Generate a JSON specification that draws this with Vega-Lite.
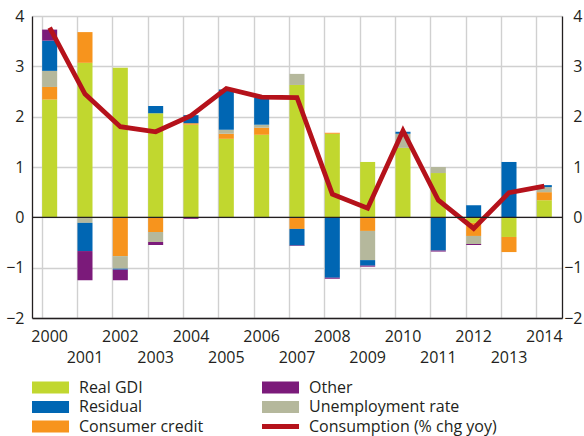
{
  "$schema": "https://vega.github.io/schema/vega-lite/v6.json",
  "width": 530,
  "height": 302,
  "autosize": {"type": "none"},
  "padding": {"left": 32, "top": 16, "right": 22, "bottom": 118},
  "background": "white",
  "config": {
    "view": {"stroke": null},
    "font": "Open Sans",
    "axis": {"labelFont": "Open Sans", "labelColor": "#231f20", "domainColor": "#231f20", "gridColor": "#d0d0d0", "gridWidth": 1.4}
  },
  "datasets": {
    "components": [
      {"component": "Real GDI", "rank": 1},
      {"component": "Consumer credit", "rank": 2},
      {"component": "Unemployment rate", "rank": 3},
      {"component": "Residual", "rank": 4},
      {"component": "Other", "rank": 5}
    ],
    "bars": [
      {"year": 2000, "component": "Real GDI", "value": 2.34},
      {"year": 2000, "component": "Consumer credit", "value": 0.25},
      {"year": 2000, "component": "Unemployment rate", "value": 0.32},
      {"year": 2000, "component": "Residual", "value": 0.60},
      {"year": 2000, "component": "Other", "value": 0.22},
      {"year": 2001, "component": "Real GDI", "value": 3.07},
      {"year": 2001, "component": "Consumer credit", "value": 0.61},
      {"year": 2001, "component": "Unemployment rate", "value": -0.11},
      {"year": 2001, "component": "Residual", "value": -0.56},
      {"year": 2001, "component": "Other", "value": -0.58},
      {"year": 2002, "component": "Real GDI", "value": 2.97},
      {"year": 2002, "component": "Consumer credit", "value": -0.77},
      {"year": 2002, "component": "Unemployment rate", "value": -0.25},
      {"year": 2002, "component": "Residual", "value": -0.02},
      {"year": 2002, "component": "Other", "value": -0.21},
      {"year": 2003, "component": "Real GDI", "value": 2.07},
      {"year": 2003, "component": "Consumer credit", "value": -0.29},
      {"year": 2003, "component": "Unemployment rate", "value": -0.20},
      {"year": 2003, "component": "Residual", "value": 0.14},
      {"year": 2003, "component": "Other", "value": -0.06},
      {"year": 2004, "component": "Real GDI", "value": 1.84},
      {"year": 2004, "component": "Consumer credit", "value": 0.03},
      {"year": 2004, "component": "Residual", "value": 0.16},
      {"year": 2004, "component": "Other", "value": -0.03},
      {"year": 2005, "component": "Real GDI", "value": 1.56},
      {"year": 2005, "component": "Consumer credit", "value": 0.10},
      {"year": 2005, "component": "Unemployment rate", "value": 0.08},
      {"year": 2005, "component": "Residual", "value": 0.80},
      {"year": 2006, "component": "Real GDI", "value": 1.64},
      {"year": 2006, "component": "Consumer credit", "value": 0.14},
      {"year": 2006, "component": "Unemployment rate", "value": 0.06},
      {"year": 2006, "component": "Residual", "value": 0.54},
      {"year": 2007, "component": "Real GDI", "value": 2.63},
      {"year": 2007, "component": "Consumer credit", "value": -0.23},
      {"year": 2007, "component": "Unemployment rate", "value": 0.22},
      {"year": 2007, "component": "Residual", "value": -0.33},
      {"year": 2007, "component": "Other", "value": -0.01},
      {"year": 2008, "component": "Real GDI", "value": 1.66},
      {"year": 2008, "component": "Consumer credit", "value": 0.02},
      {"year": 2008, "component": "Residual", "value": -1.20},
      {"year": 2008, "component": "Other", "value": -0.02},
      {"year": 2009, "component": "Real GDI", "value": 1.10},
      {"year": 2009, "component": "Consumer credit", "value": -0.27},
      {"year": 2009, "component": "Unemployment rate", "value": -0.58},
      {"year": 2009, "component": "Residual", "value": -0.11},
      {"year": 2009, "component": "Other", "value": -0.02},
      {"year": 2010, "component": "Real GDI", "value": 1.38},
      {"year": 2010, "component": "Unemployment rate", "value": 0.28},
      {"year": 2010, "component": "Residual", "value": 0.04},
      {"year": 2011, "component": "Real GDI", "value": 0.88},
      {"year": 2011, "component": "Unemployment rate", "value": 0.12},
      {"year": 2011, "component": "Residual", "value": -0.66},
      {"year": 2011, "component": "Other", "value": -0.02},
      {"year": 2012, "component": "Real GDI", "value": -0.11},
      {"year": 2012, "component": "Consumer credit", "value": -0.26},
      {"year": 2012, "component": "Unemployment rate", "value": -0.16},
      {"year": 2012, "component": "Residual", "value": 0.24},
      {"year": 2012, "component": "Other", "value": -0.02},
      {"year": 2013, "component": "Real GDI", "value": -0.39},
      {"year": 2013, "component": "Consumer credit", "value": -0.30},
      {"year": 2013, "component": "Residual", "value": 1.10},
      {"year": 2014, "component": "Real GDI", "value": 0.34},
      {"year": 2014, "component": "Consumer credit", "value": 0.16},
      {"year": 2014, "component": "Unemployment rate", "value": 0.10},
      {"year": 2014, "component": "Residual", "value": 0.04}
    ],
    "consumption": [
      {"year": 2000, "value": 3.77},
      {"year": 2001, "value": 2.45},
      {"year": 2002, "value": 1.80},
      {"year": 2003, "value": 1.70},
      {"year": 2004, "value": 2.02},
      {"year": 2005, "value": 2.56},
      {"year": 2006, "value": 2.39},
      {"year": 2007, "value": 2.38},
      {"year": 2008, "value": 0.46},
      {"year": 2009, "value": 0.18},
      {"year": 2010, "value": 1.72},
      {"year": 2011, "value": 0.34},
      {"year": 2012, "value": -0.22},
      {"year": 2013, "value": 0.49},
      {"year": 2014, "value": 0.62}
    ]
  },
  "layer": [
    {
      "data": {"name": "bars"},
      "transform": [
        {"lookup": "component", "from": {"data": {"name": "components"}, "key": "component", "fields": ["rank"]}}
      ],
      "mark": {"type": "bar"},
      "encoding": {
        "x": {
          "field": "year", "type": "ordinal",
          "scale": {"paddingInner": 0.575, "paddingOuter": 0.2875},
          "axis": {
            "title": null, "labelAngle": 0, "labelFontSize": 16, "labelPadding": 10.5,
            "labelLineHeight": 20.5,
            "labelExpr": "datum.value % 2 === 1 ? ['', datum.label] : datum.label",
            "ticks": false, "grid": true, "bandPosition": 0, "domainWidth": 1.3
          }
        },
        "y": {
          "aggregate": "sum", "field": "value", "type": "quantitative", "stack": "zero",
          "scale": {"domain": [-2, 4], "nice": false, "zero": false},
          "axis": {
            "title": null, "orient": "left", "values": [-2, -1, 0, 1, 2, 3, 4],
            "ticks": false, "grid": true, "labelFontSize": 16, "labelPadding": 8, "domainWidth": 1.3
          }
        },
        "order": {"field": "rank", "type": "quantitative", "sort": "ascending"},
        "color": {
          "field": "component", "type": "nominal",
          "scale": {
            "domain": ["Real GDI", "Residual", "Consumer credit", "Other", "Unemployment rate", "Consumption (% chg yoy)"],
            "range": ["#C1D72F", "#0066B3", "#F7941D", "#7B1A7A", "#B5B89C", "#B5121B"]
          },
          "legend": {
            "title": null, "orient": "none", "legendX": -2, "legendY": 363.5,
            "columns": 2, "columnPadding": 56, "rowPadding": 3.5,
            "labelFont": "Open Sans", "labelFontSize": 16, "labelColor": "#231f20", "labelLimit": 400,
            "labelOffset": 33, "symbolSize": 144, "symbolStrokeWidth": 0,
            "encode": {
              "symbols": {
                "update": {
                  "shape": {"signal": "datum.value === 'Consumption (% chg yoy)' ? 'M-1,-0.4H5.17V0.4H-1Z' : 'M-1,-1H5.17V1H-1Z'"},
                  "fill": {"scale": "color", "field": "value"},
                  "stroke": {"value": "transparent"},
                  "opacity": {"value": 1}
                }
              }
            }
          }
        }
      }
    },
    {
      "data": {"name": "consumption"},
      "mark": {"type": "line", "strokeWidth": 4.8, "strokeJoin": "miter"},
      "encoding": {
        "x": {"field": "year", "type": "ordinal"},
        "y": {
          "field": "value", "type": "quantitative",
          "scale": {"domain": [-2, 4], "nice": false, "zero": false},
          "axis": {
            "title": null, "orient": "right", "values": [-2, -1, 0, 1, 2, 3, 4],
            "ticks": false, "grid": false, "labelFontSize": 16, "labelPadding": 20, "labelAlign": "right", "domainWidth": 1.3
          }
        },
        "color": {"datum": "Consumption (% chg yoy)"}
      }
    },
    {
      "data": {"values": [{"zero": 0}]},
      "mark": {"type": "rule", "color": "#231f20", "strokeWidth": 1.3},
      "encoding": {
        "y": {"field": "zero", "type": "quantitative", "axis": null}
      }
    }
  ],
  "resolve": {"axis": {"y": "independent"}}
}
